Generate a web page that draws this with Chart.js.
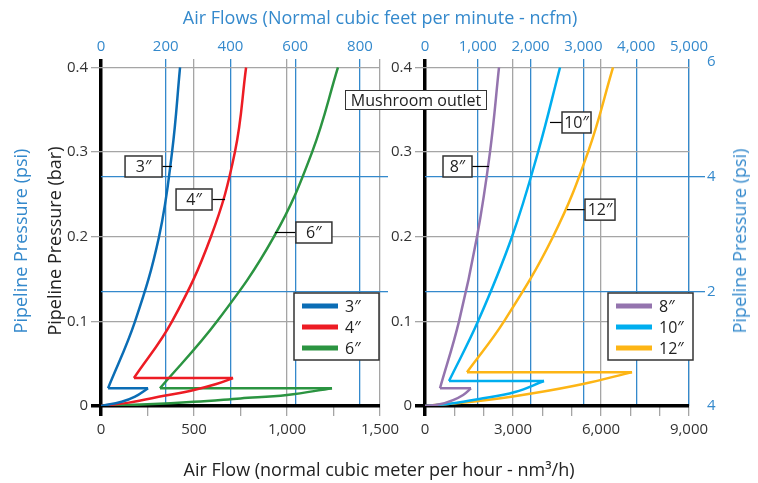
<!DOCTYPE html>
<html>
<head>
<meta charset="utf-8">
<script src="https://cdn.jsdelivr.net/npm/chart.js@4.4.1/dist/chart.umd.min.js"></script>
<style>
    html, body { margin: 0; padding: 0; background: #fff; }
    #wrap { position: relative; width: 758px; height: 483px; overflow: hidden; font-family: 'Open Sans', sans-serif; }
    #wrap canvas { position: absolute; left: 0; top: 0; }
    .t { position: absolute; white-space: nowrap; font-size: 18px; color: #222; transform: translate(-50%, -50%); }
    .t.blue { color: #3489cc; }
    .t.rot { transform: translate(-50%, -50%) rotate(-90deg); }
    #mushroom { position: absolute; left: 345px; top: 90px; width: 140px; height: 18px; background: #fff;
        border: 1.5px solid #333; font-size: 16px; line-height: 18px; text-align: center; color: #222; }
</style>
</head>
<body>
<div id="wrap">
    <canvas id="left" width="758" height="483"></canvas>
    <canvas id="right" width="758" height="483"></canvas>
    <div class="t blue" style="left:380px;top:17px">Air Flows (Normal cubic feet per minute - ncfm)</div>
    <div class="t" style="left:379px;top:469px">Air Flow (normal cubic meter per hour - nm³/h)</div>
    <div class="t blue rot" style="left:20px;top:241px">Pipeline Pressure (psi)</div>
    <div class="t rot" style="left:54px;top:241px">Pipeline Pressure (bar)</div>
    <div class="t blue rot" style="left:739px;top:241px">Pipeline Pressure (psi)</div>
    <div id="mushroom">Mushroom outlet</div>
</div>
<script>
// Curves: [air flow nm3/h, pressure bar]. "low" = start-up branch, "up" = operating branch.
const low3 = [[0, 0], [111, 0.005], [183, 0.011], [253, 0.021]];
const up3 = [[38, 0.021], [183, 0.1], [312, 0.2], [382, 0.3], [425, 0.4]];
const low4 = [[0, 0], [150, 0.004], [339, 0.012], [500, 0.019], [620, 0.026], [710, 0.033]];
const up4 = [[177, 0.033], [382, 0.1], [591, 0.2], [720, 0.3], [780, 0.4]];
const low6 = [[0, 0], [250, 0.002], [500, 0.005], [750, 0.009], [1000, 0.013], [1242, 0.021]];
const up6 = [[317, 0.021], [624, 0.1], [930, 0.2], [1135, 0.3], [1274, 0.4]];

const low8 = [[0, 0], [500, 0.002], [955, 0.007], [1300, 0.013], [1568, 0.021]];
const up8 = [[511, 0.021], [1159, 0.1], [1773, 0.2], [2216, 0.3], [2523, 0.4]];
const low10 = [[0, 0], [900, 0.003], [1807, 0.008], [3068, 0.0165], [4057, 0.0295]];
const up10 = [[818, 0.0295], [1807, 0.1], [2966, 0.2], [3853, 0.3], [4603, 0.4]];
const low12 = [[0, 0], [2114, 0.007], [3682, 0.015], [5387, 0.026], [7058, 0.040]];
const up12 = [[1432, 0.040], [2693, 0.1], [4364, 0.2], [5557, 0.3], [6410, 0.4]];

const namesLeft = ['3″', '4″', '6″'];
const namesRight = ['8″', '10″', '12″'];
const psiTickLabels = ['4', '2', '4', '6'];   // as printed (bottom label reads "4")

const BLUE = '#3489cc';
const GRAY = '#a5a5a5';
const DARK = '#333';
const NONE = 'rgba(0,0,0,0)';
const colorsLeft = ['#0b6db5', '#ed1c24', '#2b9441'];
const colorsRight = ['#9474ae', '#00aeef', '#fdb515'];

Chart.defaults.font.family = "'Open Sans', sans-serif";

function curve(low, up, color) {
    const pts = a => a.map(p => ({ x: p[0], y: p[1] }));
    const base = { borderColor: color, borderWidth: 2.5, pointRadius: 0, fill: false, tension: 0.4 };
    return [
        { ...base, data: pts(low) },
        // straight jump from the start-up branch back to the operating branch
        { ...base, data: pts([low[low.length - 1], up[0]]), tension: 0 },
        { ...base, data: pts(up) },
    ];
}

const decor = {
    id: 'decor',
    afterDatasetsDraw(chart, args, opts) {
        const { ctx, chartArea: a, scales } = chart;
        ctx.save();
        ctx.font = "16px 'Open Sans', sans-serif";
        ctx.textBaseline = 'middle';

        // callout boxes with leader lines
        opts.callouts.forEach(c => {
            const px = scales.x.getPixelForValue(c.x);
            const py = scales.y.getPixelForValue(c.y);
            const h = 21;
            const bx = c.dx < 0 ? px + c.dx - c.w : px + c.dx;
            ctx.strokeStyle = '#000';
            ctx.lineWidth = 1.2;
            ctx.beginPath();
            ctx.moveTo(px, py);
            ctx.lineTo(c.dx < 0 ? bx + c.w : bx, py);
            ctx.stroke();
            ctx.fillStyle = '#fff';
            ctx.fillRect(bx, py - h / 2, c.w, h);
            ctx.lineWidth = 1.5;
            ctx.strokeStyle = DARK;
            ctx.strokeRect(bx, py - h / 2, c.w, h);
            ctx.fillStyle = '#222';
            ctx.textAlign = 'center';
            ctx.fillText(c.text, bx + c.w / 2, py + 1);
        });

        // legend box
        const L = opts.legend;
        const w = 85, h = 67;
        const x0 = a.right + L.dx - w, y0 = a.bottom - 46 - h;
        ctx.fillStyle = '#fff';
        ctx.fillRect(x0, y0, w, h);
        ctx.lineWidth = 1.5;
        ctx.strokeStyle = DARK;
        ctx.strokeRect(x0, y0, w, h);
        L.names.forEach((n, i) => {
            const yy = y0 + 13 + i * 21;
            ctx.strokeStyle = L.colors[i];
            ctx.lineWidth = 5;
            ctx.beginPath();
            ctx.moveTo(x0 + 8, yy);
            ctx.lineTo(x0 + 44, yy);
            ctx.stroke();
            ctx.fillStyle = '#222';
            ctx.textAlign = 'left';
            ctx.fillText(n, x0 + 51, yy + 1);
        });
        ctx.restore();
    },
};

function panelScales(o) {
    const isZero = c => c.tick && c.tick.value === 0;
    return {
        x: {
            type: 'linear', position: 'bottom', min: 0, max: o.xMax,
            afterFit: s => { s.height = 77; },
            border: { display: false },
            ticks: {
                stepSize: o.xStep, autoSkip: false, maxRotation: 0, color: DARK, font: { size: 15 }, padding: 5,
                callback: v => (v % o.xLabelStep === 0 ? v.toLocaleString('en-US') : ''),
            },
            grid: {
                color: c => isZero(c) ? '#000' : (c.tick.value % o.xLabelStep === 0 ? GRAY : NONE),
                lineWidth: c => isZero(c) ? 3.5 : 1.3,
                tickColor: c => isZero(c) ? '#000' : GRAY,
                tickWidth: c => isZero(c) ? 3.5 : 1.3,
                tickLength: 10,
            },
        },
        x2: {
            type: 'linear', position: 'top', min: 0, max: o.topMax,
            afterFit: s => { s.height = 59; },
            border: { display: false },
            ticks: {
                stepSize: o.topStep, autoSkip: false, maxRotation: 0, color: BLUE, font: { size: 15 }, padding: 3,
                includeBounds: false,
                callback: v => v.toLocaleString('en-US'),
            },
            grid: { color: c => isZero(c) ? NONE : BLUE, lineWidth: 1.3, drawTicks: false },
        },
        y: {
            type: 'linear', position: 'left', min: 0, max: 0.41,
            afterFit: s => { s.width = o.yWidth; },
            border: { display: false },
            ticks: {
                stepSize: 0.1, includeBounds: false, color: DARK, font: { size: 15 }, padding: 3,
                callback: v => (v === 0 ? '0' : v.toFixed(1)),
            },
            grid: {
                color: c => isZero(c) ? '#000' : GRAY,
                lineWidth: c => isZero(c) ? 3.5 : 1.3,
                tickColor: c => isZero(c) ? '#000' : GRAY,
                tickWidth: c => isZero(c) ? 3.5 : 1.3,
                tickLength: 10,
            },
        },
        yp: {
            type: 'linear', position: 'right', min: 0, max: 6.05,
            afterFit: s => { s.width = o.psiWidth; },
            border: { display: false },
            ticks: {
                display: o.psiLabels, stepSize: 2, includeBounds: false, color: BLUE, font: { size: 15 }, padding: 2,
                callback: v => psiTickLabels[Math.round(v / 2)],
            },
            grid: {
                color: c => (c.tick.value === 2 || c.tick.value === 4) ? BLUE : NONE,
                tickColor: c => (c.tick.value === 2 || c.tick.value === 4) ? BLUE : NONE,
                lineWidth: 1.3,
                tickLength: o.psiTick,
            },
        },
    };
}

function mkPanel(canvasId, datasets, padding, scaleOpts, decorOpts) {
    return new Chart(document.getElementById(canvasId), {
        type: 'line',
        data: { datasets },
        options: {
            responsive: false,
            animation: false,
            layout: { padding },
            plugins: { legend: { display: false }, tooltip: { enabled: false }, decor: decorOpts },
            scales: panelScales(scaleOpts),
        },
        plugins: [decor],
    });
}

mkPanel('left',
    [...curve(low3, up3, colorsLeft[0]), ...curve(low4, up4, colorsLeft[1]), ...curve(low6, up6, colorsLeft[2])],
    { left: 0, right: 368, top: 0, bottom: 0 },
    { xMax: 1500, xStep: 250, xLabelStep: 500, topMax: 862, topStep: 200, yWidth: 101, psiWidth: 10, psiTick: 8, psiLabels: false },
    {
        callouts: [
            { text: namesLeft[0], x: 382, y: 0.283, dx: -10, w: 37 },
            { text: namesLeft[1], x: 667, y: 0.244, dx: -13, w: 36 },
            { text: namesLeft[2], x: 935, y: 0.205, dx: 21, w: 36 },
        ],
        legend: { names: namesLeft, colors: colorsLeft, dx: -1 },
    });

mkPanel('right',
    [...curve(low8, up8, colorsRight[0]), ...curve(low10, up10, colorsRight[1]), ...curve(low12, up12, colorsRight[2])],
    { left: 390, right: 0, top: 0, bottom: 0 },
    { xMax: 9000, xStep: 1000, xLabelStep: 3000, topMax: 5000, topStep: 1000, yWidth: 35, psiWidth: 69, psiTick: 16, psiLabels: true },
    {
        callouts: [
            { text: namesRight[0], x: 2182, y: 0.283, dx: -17, w: 29 },
            { text: namesRight[1], x: 4262, y: 0.335, dx: 12, w: 29 },
            { text: namesRight[2], x: 4841, y: 0.232, dx: 18, w: 30 },
        ],
        legend: { names: namesRight, colors: colorsRight, dx: 4 },
    });
</script>
</body>
</html>
